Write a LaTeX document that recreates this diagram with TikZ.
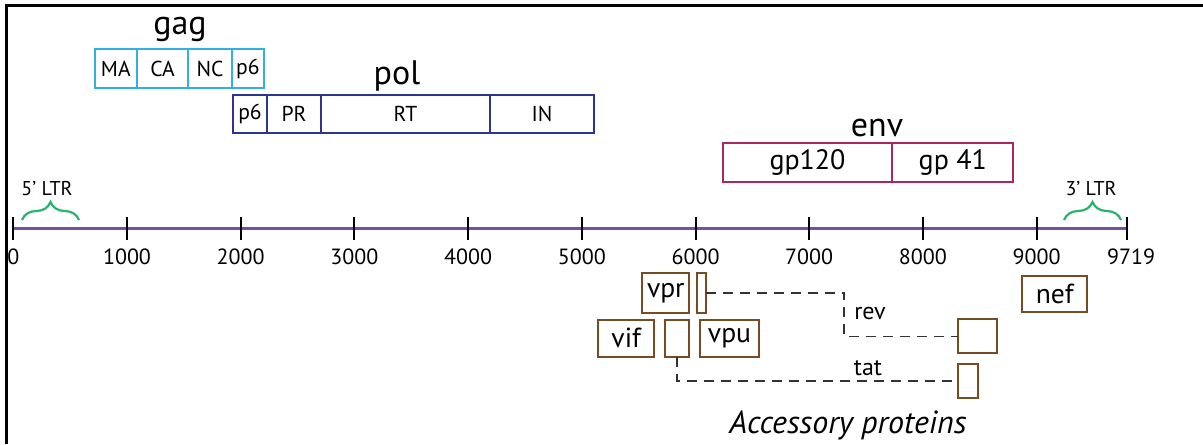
\documentclass[tikz,border=0pt]{standalone}
\usepackage{fontspec}
\setmainfont{PT Sans}
\usetikzlibrary{decorations.pathreplacing,calc}
\definecolor{gagc}{RGB}{50,175,228}
\definecolor{polc}{RGB}{46,52,146}
\definecolor{envc}{RGB}{172,38,100}
\definecolor{axc}{RGB}{120,78,160}
\definecolor{ltrc}{RGB}{40,180,110}
\definecolor{accc}{RGB}{117,76,36}
\definecolor{dashc}{RGB}{50,50,50}
\begin{document}
\begin{tikzpicture}[x=0.5pt,y=-0.5pt,
  segbox/.style={draw, line width=1pt, inner sep=0pt, outer sep=0pt, fill=white},
  gagbox/.style={segbox, draw=gagc, font=\fontsize{10.8}{12}\selectfont},
  polbox/.style={segbox, draw=polc, font=\fontsize{10.8}{12}\selectfont},
  envbox/.style={segbox, draw=envc, font=\fontsize{14}{16}\selectfont},
  accbox/.style={segbox, draw=accc, line width=1.1pt, font=\fontsize{13.8}{16}\selectfont},
  title/.style={font=\fontsize{17}{20}\selectfont, inner sep=0pt, anchor=base},
  ticklab/.style={font=\fontsize{11}{13}\selectfont, inner sep=0pt},
  ltrlab/.style={font=\fontsize{10}{12}\selectfont, inner sep=0pt},
  ltrbrace/.style={draw=ltrc, line width=1.1pt, decorate, decoration={brace, amplitude=9pt}},
  dashline/.style={draw=dashc, line width=0.8pt, dash pattern=on 5pt off 3.5pt},
  small/.style={font=\fontsize{12}{14}\selectfont, inner sep=0pt}]
\useasboundingbox (0,0) rectangle (1203,444);
\fill[white] (0,0) rectangle (1203,444);

% gag
\node[title] (gag) at (180,35) {gag};
\node[gagbox, minimum width=20.85pt, minimum height=19.5pt] (ma) at (115.85,68.8) {MA};
\node[gagbox, minimum width=25.8pt, minimum height=19.5pt] (ca) at (162.5,68.8) {CA};
\node[gagbox, minimum width=21.7pt, minimum height=19.5pt] (nc) at (210,68.8) {NC};
\node[gagbox, minimum width=16.15pt, minimum height=19.5pt] (gp6) at (247.85,68.8) {p6};

% pol
\node[title] (pol) at (397,85) {pol};
\node[polbox, minimum width=17pt, minimum height=19pt] (pp6) at (250,114) {p6};
\node[polbox, minimum width=27pt, minimum height=19pt] (pr) at (294,114) {PR};
\node[polbox, minimum width=84.5pt, minimum height=19pt] (rt) at (405.5,114) {RT};
\node[polbox, minimum width=52pt, minimum height=19pt] (in) at (542,114) {IN};

% env
\node[title] (env) at (877,136) {env};
\node[envbox, minimum width=84.8pt, minimum height=19.8pt] (gp120) at (807.5,162.5) {gp120};
\node[envbox, minimum width=60.5pt, minimum height=19.8pt] (gp41) at (952.8,162.5) {gp 41};

% axis
\coordinate (ax0) at (13.3,228.3);
\coordinate (axend) at (1127,228.3);
\draw[axc, line width=1.6pt] (ax0) -- (axend);
\foreach \k in {0,...,9} {
  \draw[black, line width=1pt] (13.3+\k*113.7,216.7) -- (13.3+\k*113.7,239.5);
}
\draw[black, line width=1pt] (1127,216.7) -- (1127,239.5);
\node[ticklab] (t0) at (13.3,257) {0};
\node[ticklab] (t1) at (127,257) {1000};
\node[ticklab] (t2) at (240.7,257) {2000};
\node[ticklab] (t3) at (354.4,257) {3000};
\node[ticklab] (t4) at (468.1,257) {4000};
\node[ticklab] (t5) at (581.8,257) {5000};
\node[ticklab] (t6) at (695.5,257) {6000};
\node[ticklab] (t7) at (809.2,257) {7000};
\node[ticklab] (t8) at (922.9,257) {8000};
\node[ticklab] (t9) at (1036.6,257) {9000};
\node[ticklab] (tend) at (1131,257) {9719};

% LTRs
\node[ltrlab] (ltr5) at (47,189) {5’ LTR};
\coordinate (b5a) at (22,220);
\coordinate (b5b) at (79,220);
\draw[ltrbrace] (b5a) -- (b5b);
\node[ltrlab] (ltr3) at (1091,189) {3’ LTR};
\coordinate (b3a) at (1064,220);
\coordinate (b3b) at (1121,220);
\draw[ltrbrace] (b3a) -- (b3b);

% accessory proteins
\node[accbox, minimum width=23.5pt, minimum height=20pt] (vpr) at (665.8,292.7) {vpr};
\node[accbox, minimum width=4.5pt, minimum height=20pt] (reva) at (701.2,292.7) {};
\node[accbox, minimum width=27.85pt, minimum height=18.35pt] (vif) at (626.2,338.3) {vif};
\node[accbox, minimum width=12pt, minimum height=18.35pt] (tata) at (677,338.3) {};
\node[accbox, minimum width=29.5pt, minimum height=18.35pt] (vpu) at (729.5,338.3) {vpu};
\node[accbox, minimum width=19.2pt, minimum height=17pt] (revb) at (977.5,336.3) {};
\node[accbox, minimum width=9.7pt, minimum height=16.85pt] (tatb) at (968,381) {};
\node[accbox, minimum width=32.5pt, minimum height=18.3pt] (nef) at (1054.8,294) {nef};

\coordinate (revturn) at (844,292.7);
\draw[dashline] (reva.east) -- (revturn) |- (revb.west);
\draw[dashline] (tata.south) |- (tatb.west);
\node[small] (rev) at (870,313) {rev};
\node[small] (tat) at (868,368) {tat};

\node[font=\fontsize{16}{19}\itshape, inner sep=0pt] (acc) at (848,425) {Accessory proteins};

% frame
\coordinate (fr1) at (6.2,444);
\coordinate (fr2) at (6.2,5.5);
\coordinate (fr3) at (1203,5.5);
\draw[black, line width=1.3pt] (fr1) -- (fr2) -- (fr3);
\end{tikzpicture}
\end{document}
